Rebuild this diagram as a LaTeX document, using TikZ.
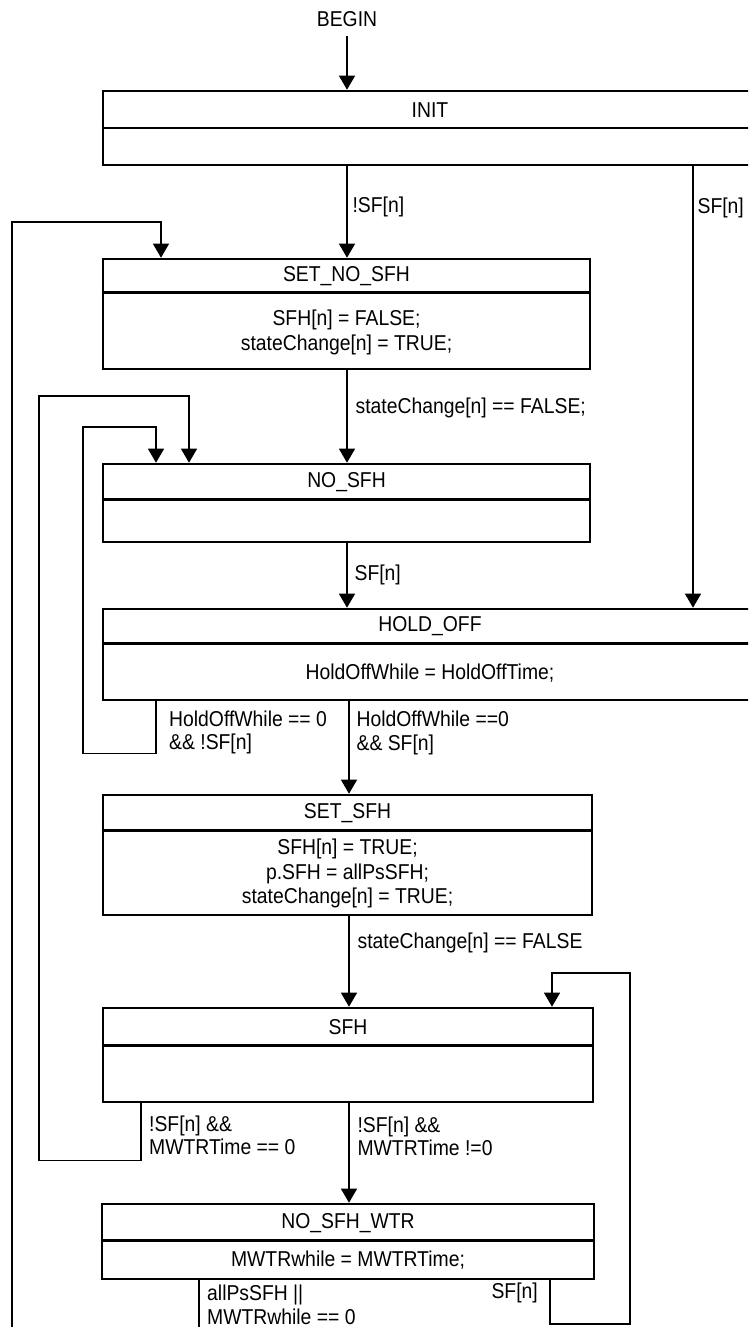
\documentclass[tikz,border=0pt]{standalone}
\usepackage{fontspec}
\setmainfont[FakeStretch=0.9]{Liberation Sans}
\usetikzlibrary{arrows.meta}
\begin{document}
\begin{tikzpicture}[x=1pt,y=-1pt,
  every node/.style={font=\fontsize{21.5}{23.5}\selectfont, inner sep=0pt},
  box/.style={draw, line width=2.6pt, rectangle, inner sep=0pt},
  div/.style={line width=2.6pt},
  conn/.style={line width=1.2pt, -{Triangle[length=14pt,width=16pt]}},
  plain/.style={line width=1.2pt},
  lbl/.style={anchor=west, align=left},
  body/.style={align=center, font=\fontsize{21.5}{24.5}\selectfont},
]
\useasboundingbox (0,0) rectangle (748,1327);
\clip (0,0) rectangle (748,1327);
\fill[white] (0,0) rectangle (748,1327);

% helper x positions
\coordinate (cA) at (347,0);
\coordinate (cB) at (349,0);
\coordinate (cR) at (693,0);
\coordinate (cL1) at (156,0);
\coordinate (cL2) at (141,0);
\coordinate (cL3) at (189,0);
\coordinate (cR2) at (550,0);
\coordinate (cR3) at (552,0);
\coordinate (cB1) at (199,0);
\coordinate (cT1) at (161,0);

% BEGIN
\node (begin) at (347,19) {BEGIN};

% INIT
\node[box, minimum width=654, minimum height=74] (init) at (430,128) {};
\draw[div] (init.west) -- (init.east);
\node (initT) at (430,110) {INIT};

% SET_NO_SFH
\node[box, minimum width=487, minimum height=110] (setno) at (346.5,314) {};
\draw[div] (setno.north west) ++(0,35) -- ++(487,0);
\node (setnoT) at (346.5,276) {SET\_NO\_SFH};
\node[body] (setnoB) at (346.5,332.5) {SFH[n] = FALSE;\\stateChange[n] = TRUE;};

% NO_SFH
\node[box, minimum width=487, minimum height=78] (nosfh) at (346.5,503) {};
\draw[div] (nosfh.north west) ++(0,37) -- ++(487,0);
\node (nosfhT) at (346.5,482) {NO\_SFH};

% HOLD_OFF
\node[box, minimum width=654, minimum height=91] (holdoff) at (430,654.5) {};
\draw[div] (holdoff.north west) ++(0,36) -- ++(654,0);
\node (holdoffT) at (430,626) {HOLD\_OFF};
\node[body] (holdoffB) at (430,673) {HoldOffWhile = HoldOffTime;};

% SET_SFH
\node[box, minimum width=489, minimum height=120] (setsfh) at (347.5,855) {};
\draw[div] (setsfh.north west) ++(0,37) -- ++(489,0);
\node (setsfhT) at (347.5,813) {SET\_SFH};
\node[body] (setsfhB) at (347.5,873.5) {SFH[n] = TRUE;\\p.SFH = allPsSFH;\\stateChange[n] = TRUE;};

% SFH
\node[box, minimum width=490, minimum height=94] (sfh) at (348,1055) {};
\draw[div] (sfh.north west) ++(0,39) -- ++(490,0);
\node (sfhT) at (348,1027) {SFH};

% NO_SFH_WTR
\node[box, minimum width=492, minimum height=75] (nowtr) at (348,1241.5) {};
\draw[div] (nowtr.north west) ++(0,38) -- ++(492,0);
\node (nowtrT) at (348,1223) {NO\_SFH\_WTR};
\node[body] (nowtrB) at (348,1260) {MWTRwhile = MWTRTime;};

% connectors
\draw[conn] ([yshift=-9pt]begin.south) -- (init.north -| begin);

\draw[conn] (init.south -| cA) -- node[lbl, pos=0.45, xshift=5pt] (l1) {!SF[n]} (setno.north -| cA);
\draw[conn] (init.south -| cR) -- node[lbl, pos=0.095, xshift=4pt] (l2) {SF[n]} (holdoff.north -| cR);

\draw[conn] (setno.south -| cA) -- node[lbl, pos=0.41, xshift=8pt] (l3) {stateChange[n] == FALSE;} (nosfh.north -| cA);
\draw[conn] (nosfh.south -| cA) -- node[lbl, pos=0.49, xshift=7pt] (l4) {SF[n]} (holdoff.north -| cA);

\draw[conn] (holdoff.south -| cB) -- node[lbl, pos=0.34, xshift=7pt] (l5) {HoldOffWhile ==0\\\&\& SF[n]} (setsfh.north -| cB);
\draw[conn] (holdoff.south -| cL1) -- ++(0,52) -| (83,427) -| (nosfh.north -| cL1);
\node[lbl] (l6) at (169,732.5) {HoldOffWhile == 0\\\&\& !SF[n]};

\draw[conn] (setsfh.south -| cB) -- node[lbl, pos=0.29, xshift=8pt] (l7) {stateChange[n] == FALSE} (sfh.north -| cB);

\draw[conn] (sfh.south -| cB) -- node[lbl, pos=0.33, xshift=8pt] (l8) {!SF[n] \&\&\\MWTRTime !=0} (nowtr.north -| cB);
\draw[conn] (sfh.south -| cL2) -- ++(0,57) -| (39,396) -| (nosfh.north -| cL3);
\node[lbl] (l9) at (149,1135.5) {!SF[n] \&\&\\MWTRTime == 0};

\draw[conn] (nowtr.south -| cR2) |- (630,1324) -- (630,973) -| (sfh.north -| cR3);
\node[anchor=east] (l10) at (538,1293) {SF[n]};

\draw[conn] (nowtr.south -| cB1) -- (199,1345) -| (12,222) -| (setno.north -| cT1);
\node[lbl] (l11) at (207,1305) {allPsSFH ||\\MWTRwhile == 0};
\end{tikzpicture}
\end{document}
